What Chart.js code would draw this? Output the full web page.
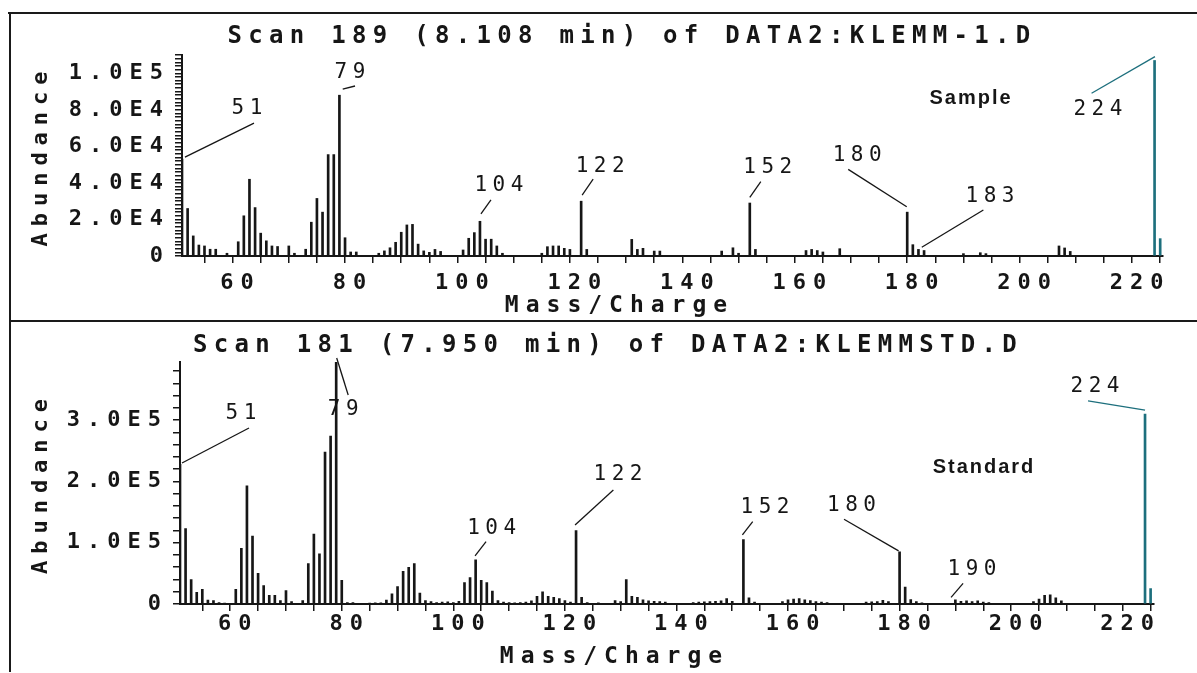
<!DOCTYPE html>
<html>
<head>
<meta charset="utf-8">
<script src="https://cdn.jsdelivr.net/npm/chart.js@4.4.1/dist/chart.umd.min.js"></script>
<style>
  html, body { margin: 0; padding: 0; background: #fff; }
  body { width: 1197px; height: 673px; position: relative; overflow: hidden; }
  .panel { position: absolute; left: 0; width: 1197px; }
  #topPanel { top: 0; height: 320px; }
  #bottomPanel { top: 320px; height: 353px; }
  .rule { position: absolute; background: #1a1a1a; }
</style>
</head>
<body>
<div class="rule" style="left:8px;top:12px;width:1189px;height:2px"></div>
<div class="rule" style="left:9px;top:12px;width:2px;height:660px"></div>
<div class="rule" style="left:9px;top:320px;width:1188px;height:2px"></div>
<div class="panel" id="topPanel"><canvas id="topChart"></canvas></div>
<div class="panel" id="bottomPanel"><canvas id="bottomChart"></canvas></div>

<script>
// ---- Scan 189 (sample) ----
const sampleMass = [51, 52, 53, 54, 55, 56, 57, 59, 61, 62, 63, 64, 65, 66, 67, 68, 70, 71, 73, 74, 75, 76, 77, 78, 79, 80, 81, 82,
  86, 87, 88, 89, 90, 91, 92, 93, 94, 95, 96, 97, 101, 102, 103, 104, 105, 106, 107, 108, 115, 116, 117, 118, 119, 120,
  122, 123, 131, 132, 133, 135, 136, 147, 149, 150, 152, 153, 162, 163, 164, 165, 168, 180, 181, 182, 183, 190, 193, 194,
  207, 208, 209, 224, 225];
const sampleAbund = [53000, 26000, 11000, 6000, 5500, 3700, 3700, 1500, 7800, 22000, 42000, 26500, 12500, 8300, 5500, 5200, 5500, 1500, 3700, 18500, 31500, 24000, 55500, 55500, 88000, 10000, 2200, 2200,
  1500, 2800, 4500, 7500, 13000, 17000, 17300, 6500, 2800, 2000, 3600, 2500, 3300, 9700, 12800, 19000, 9200, 9200, 5500, 1500, 1500, 5100, 5500, 5500, 4200, 3600,
  30000, 3600, 9100, 3600, 4200, 2700, 2700, 2700, 4500, 1500, 29000, 3600, 3000, 3600, 3000, 2200, 4000, 24000, 6200, 3600, 3000, 1300, 1800, 1300,
  5500, 4400, 2500, 107000, 9500];
const samplePeakLabels = [51, 79, 104, 122, 152, 180, 183, 224];
const sampleYMajor = [0, 20000, 40000, 60000, 80000, 100000];
const sampleYText = ['0', '2.0E4', '4.0E4', '6.0E4', '8.0E4', '1.0E5'];

// ---- Scan 181 (standard) ----
const standardMass = [51, 52, 53, 54, 55, 56, 57, 58, 59, 61, 62, 63, 64, 65, 66, 67, 68, 69, 70, 71, 73, 74, 75, 76, 77, 78, 79, 80, 81, 82,
  85, 86, 87, 88, 89, 90, 91, 92, 93, 94, 95, 96, 97, 98, 99, 100, 101, 102, 103, 104, 105, 106, 107, 108, 109, 110, 111, 112, 113, 114,
  115, 116, 117, 118, 119, 120, 121, 122, 123, 124, 126, 129, 130, 131, 132, 133, 134, 135, 136, 137, 138,
  143, 144, 145, 146, 147, 148, 149, 150, 152, 153, 154, 159, 160, 161, 162, 163, 164, 165, 166, 167,
  174, 175, 176, 177, 178, 180, 181, 182, 183, 184, 190, 191, 192, 193, 194, 195, 196, 204, 205, 206, 207, 208, 209, 224, 225];
const standardAbund = [228000, 123000, 40000, 19000, 24000, 6600, 5500, 2200, 1500, 24000, 91000, 193000, 111000, 50000, 30000, 14000, 14000, 5500, 22000, 4000, 5500, 66000, 114000, 82000, 248000, 274000, 395000, 38700, 2200, 2200,
  1500, 2000, 2000, 6600, 16500, 28500, 53500, 60000, 66000, 17700, 5500, 4000, 2500, 3000, 3500, 2500, 4500, 34800, 43000, 72000, 38700, 34800, 21000, 5500, 3000, 2500, 2000, 2500, 3000, 5000,
  12700, 19900, 12700, 11000, 8800, 5500, 3000, 120000, 11000, 2500, 2000, 5500, 4000, 40000, 12700, 11000, 7000, 5000, 4500, 4000, 3000,
  2500, 3000, 3500, 4000, 4500, 5000, 8800, 4500, 105000, 9900, 3000, 4000, 7000, 8000, 9000, 7000, 5500, 4000, 3000, 2500,
  3000, 3500, 4000, 6000, 4000, 85000, 27600, 7200, 4000, 2000, 7000, 4500, 5000, 4000, 5000, 3000, 2500, 4000, 8000, 14000, 15000, 10000, 5000, 310000, 25000];
const standardPeakLabels = [51, 79, 104, 122, 152, 180, 190, 224];
const standardYMajor = [0, 100000, 200000, 300000];
const standardYText = ['0', '1.0E5', '2.0E5', '3.0E5'];

// ---- shared mass axis ----
const massMin = 51;
const massMax = 225.5;
const xTickValues = [55, 60, 65, 70, 75, 80, 85, 90, 95, 100, 105, 110, 115, 120, 125, 130, 135, 140, 145, 150,
  155, 160, 165, 170, 175, 180, 185, 190, 195, 200, 205, 210, 215, 220, 225];
const xLabelValues = [60, 80, 100, 120, 140, 160, 180, 200, 220];

const INK = '#161616';
const TEAL = '#1d6f7d';
const MONO = '"DejaVu Sans Mono", "Liberation Mono", monospace';
const SANS = '"Liberation Sans", Arial, sans-serif';

// pen plugin: headings, axis caption, panel tag and peak call-outs
function makePen(spec) {
  return {
    id: 'plotterPen',
    beforeDraw(chart) { chart.ctx.letterSpacing = '7px'; },
    afterDraw(chart) {
      const ctx = chart.ctx;
      const xs = chart.scales.x, ys = chart.scales.y;
      ctx.save();
      ctx.textAlign = 'center';
      ctx.textBaseline = 'middle';
      ctx.fillStyle = INK;

      ctx.font = 'bold 24px ' + MONO;
      ctx.letterSpacing = '6.3px';
      ctx.fillText(spec.heading, spec.headingPos[0] + 3, spec.headingPos[1]);

      ctx.font = 'bold 23px ' + MONO;
      ctx.letterSpacing = '7px';
      ctx.fillText('Mass/Charge', spec.captionPos[0] + 3.5, spec.captionPos[1]);

      ctx.font = 'bold 20px ' + SANS;
      ctx.letterSpacing = '2px';
      ctx.fillText(spec.tag, spec.tagPos[0] + 1, spec.tagPos[1]);

      ctx.font = '21px ' + MONO;
      ctx.letterSpacing = '5.5px';
      ctx.lineWidth = 1.3;
      spec.peaks.forEach((m, i) => {
        const k = spec.mass.indexOf(m);
        const px = xs.getPixelForValue(m);
        const py = ys.getPixelForValue(spec.abund[k]);
        const c = spec.callouts[i];
        ctx.strokeStyle = m >= 224 ? TEAL : INK;
        ctx.beginPath();
        ctx.moveTo(px + c[0], py + c[1]);
        ctx.lineTo(px + c[2], py + c[3]);
        ctx.stroke();
        ctx.fillStyle = INK;
        ctx.fillText(String(m), px + c[4] + 2.7, py + c[5]);
      });
      ctx.restore();
    }
  };
}

function buildPanel(canvasId, spec) {
  const points = spec.mass.map((m, i) => ({ x: m, y: spec.abund[i] }));
  const minorTicks = [];
  for (let v = 0; v <= spec.yMax; v += spec.yMinor) minorTicks.push({ value: v });

  return new Chart(document.getElementById(canvasId), {
    type: 'bar',
    data: {
      datasets: [{
        data: points,
        barThickness: 2,
        borderWidth: 0,
        backgroundColor: c => (c.raw && c.raw.x >= 224) ? TEAL : INK
      }]
    },
    options: {
      responsive: true,
      maintainAspectRatio: false,
      animation: false,
      events: [],
      layout: { padding: { left: 28, top: spec.areaTop, right: spec.padRight, bottom: 0 } },
      plugins: { legend: { display: false }, tooltip: { enabled: false }, title: { display: false } },
      scales: {
        x: {
          type: 'linear',
          min: massMin,
          max: massMax,
          offset: false,
          afterBuildTicks: s => { s.ticks = xTickValues.map(v => ({ value: v })); },
          afterFit: s => { s.height = spec.height - spec.areaBottom; },
          grid: { drawOnChartArea: false, drawTicks: true, tickLength: 7, color: INK, lineWidth: 1.5, offset: false },
          border: { display: true, color: INK, width: 2 },
          ticks: {
            autoSkip: false, maxRotation: 0, minRotation: 0,
            padding: spec.xTickPad, labelOffset: 8, color: INK,
            font: { family: MONO, size: 22, weight: 'bold' },
            callback: v => xLabelValues.includes(v) ? String(v) : ''
          }
        },
        y: {
          min: 0,
          max: spec.yMax,
          afterBuildTicks: s => { s.ticks = minorTicks.slice(); },
          afterFit: s => { s.width = spec.axisX - 28; },
          grid: { drawOnChartArea: false, drawTicks: true, tickLength: 7, color: INK, lineWidth: 1.5 },
          border: { display: true, color: INK, width: 2 },
          ticks: {
            autoSkip: false, padding: 5, color: INK,
            font: { family: MONO, size: 22, weight: 'bold' },
            callback: v => { const i = spec.yMajor.indexOf(v); return i >= 0 ? spec.yText[i] : ''; }
          },
          title: {
            display: true, text: 'Abundance', color: INK, padding: 0,
            font: { family: MONO, size: 22, weight: 'bold' }
          }
        }
      }
    },
    plugins: [makePen(spec)]
  });
}

buildPanel('topChart', {
  mass: sampleMass, abund: sampleAbund, peaks: samplePeakLabels,
  yMajor: sampleYMajor, yText: sampleYText, yMax: 110000, yMinor: 2000,
  height: 320, areaTop: 55, areaBottom: 256, axisX: 182, padRight: 34, xTickPad: 7,
  heading: 'Scan 189 (8.108 min) of DATA2:KLEMM-1.D', headingPos: [629, 37],
  captionPos: [616, 306], tag: 'Sample', tagPos: [970, 98],
  // call-out geometry relative to each labelled peak top: leader start, leader end, text centre
  callouts: [
    [3, -2, 72, -36, 65, -51],
    [3.3, -6, 15.6, -9.2, 10.6, -23],
    [1, -7.3, 11, -21.3, 19, -36],
    [1, -6, 12, -22, 19, -34.5],
    [0, -5.7, 11, -21.3, 18, -35],
    [-0.5, -5.4, -59, -42.8, -50, -57],
    [-2.3, -3.2, 59.3, -40.5, 66, -53.5],
    [0.4, -3.8, -63, 32.8, -56.6, 49.5]
  ]
});

buildPanel('bottomChart', {
  mass: standardMass, abund: standardAbund, peaks: standardPeakLabels,
  yMajor: standardYMajor, yText: standardYText, yMax: 395000, yMinor: 20000,
  height: 353, areaTop: 42, areaBottom: 284, axisX: 180, padRight: 43.6, xTickPad: 0,
  heading: 'Scan 181 (7.950 min) of DATA2:KLEMMSTD.D', headingPos: [605, 26],
  captionPos: [611, 337], tag: 'Standard', tagPos: [983, 147],
  callouts: [
    [2, -1.3, 69, -36.3, 61, -51],
    [0.5, -4, 12, 33, 7, 48],
    [-0.6, -4, 10.4, -18.2, 16, -31.6],
    [-1, -5.5, 37.3, -40.5, 42, -55.5],
    [-1, -4.7, 9.3, -18, 21.6, -31.7],
    [-1, -1, -55.6, -32.7, -48, -46],
    [-4.3, -2.4, 7.7, -16.4, 16.7, -29.7],
    [0, -4, -57, -13.3, -50, -27.3]
  ]
});
</script>
</body>
</html>
